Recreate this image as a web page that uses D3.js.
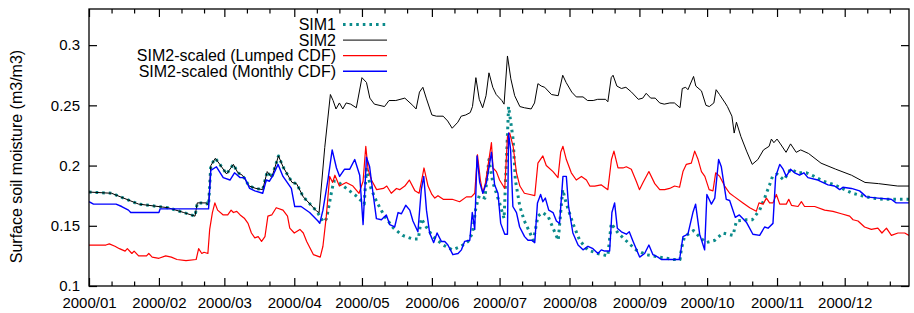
<!doctype html>
<html lang="en">
  <head>
    <meta charset="utf-8" />
    <title>Surface soil moisture 2000</title>
    <style>
     body {
       margin: 0;
       background: #fff;
     }
     svg {
       display: block;
       font-family: "Liberation Sans", Arial, sans-serif;
     }
     .tick line {
       stroke: #000;
       stroke-width: 1.2;
     }
     .tick text {
       font-size: 15px;
       fill: #000;
     }
     .legend text {
       font-size: 16px;
     }
    </style>
  </head>

  <body>
    <div id="chart"></div>

    <script src="https://d3js.org/d3.v7.min.js"></script>
    <script>
     // [day since 2000/01/01, value]
     var sim1 = [[0,.178],[10,.177],[22,.168],[35,.165],[42,.161],[47,.158],[48,.169],[52,.169],[53,.167],[54,.2],[56,.206],[58,.201],[61,.193],[64,.201],[66,.194],[68,.192],[71,.183],[74,.181],[77,.18],[79,.195],[81,.19],[84,.208],[86,.199],[90,.186],[92,.185],[95,.174],[101,.162],
       [104,.153],[105.3,.156],[107.4,.177],[108.5,.187],[110,.187],[112,.184],[115.5,.179],[119,.174],[122,.168],[123,.197],[125,.181],[127.5,.170],[131,.158],[135,.148],[139,.142],[143.5,.139],[146,.139],[147.3,.156],[149.5,.149],[152.5,.141],[157,.134],[161,.130],[165,.133],[168,.137],[170,.144],[171.5,.165],[173,.175],[175.5,.173],[177.3,.205],[179,.186],[182,.169],[184,.156],[186,.249],[188,.222],[189,.188],[191,.166],[193,.154],[195.5,.144],[197,.138],[199,.158],[201,.161],[203.5,.158],[205.5,.149],[208,.138],[210,.18],[211.5,.169],[214.5,.152],[217.5,.138],[221,.13],[225.5,.127],[230,.125],[231.5,.152],[234.5,.144],[239,.136],[242.5,.13],[247,.126],[253,.124],[259,.122],[262,.122],[262.6,.131],[264,.141],[268,.146],[270.5,.141],[273.5,.136],[277.5,.138],[281,.144],[285.5,.142],[287,.154],[291.5,.155],[294,.155],[297.3,.163],[299.5,.173],[301.7,.184],[303,.191],[305,.193],[308,.188],[311,.197],[314,.194],[318,.194],[321.5,.191],[325.5,.187],[330.5,.184],[335,.18],[338.5,.177],[342.5,.175],[347,.173],[352.5,.172],[363.5,.172]];

     var sim2 = [[0,.178],[10,.177],[22,.168],[35,.165],[42,.161],[47,.158],[48,.169],[52,.169],[53,.167],[54,.2],[56,.206],[58,.201],[61,.193],[64,.201],[66,.194],[68,.192],[71,.183],[74,.181],[77,.18],[79,.195],[81,.19],[84,.208],[86,.199],[90,.186],[92,.185],[95,.174],[101,.162],[102,.161],[104.5,.215],[107,.259],[108.2,.254],[109.5,.247],[111,.252],[112.5,.247],[114,.252],[116,.251],[118.5,.248],[121,.273],[123,.269],[124.5,.256],[126.5,.251],[131,.249],[133,.254],[136,.254],[140,.256],[143.5,.25],[145,.247],[146.5,.261],[148,.265],[149.5,.256],[152,.242],[154,.241],[157,.241],[159,.237],[161,.231],[163.5,.236],[165,.241],[167,.242],[169,.244],[170,.249],[171.5,.273],[173,.255],[174.5,.248],[176,.258],[177.3,.277],[179,.265],[180.5,.259],[183,.254],[184,.251],[185.5,.291],[187,.272],[188.7,.258],[191,.249],[193,.248],[196,.247],[197.5,.252],[199,.268],[200.5,.266],[202,.265],[205,.259],[208,.258],[210,.275],[211.5,.269],[214,.261],[216,.257],[219,.257],[221,.254],[223.5,.254],[225.5,.255],[229,.255],[230,.253],[231.5,.273],[232.3,.275],[234,.266],[236,.264],[238,.265],[240.5,.261],[243.5,.255],[245.5,.256],[247,.26],[249,.256],[251,.256],[253,.252],[255,.251],[257.5,.252],[259.5,.252],[262,.248],[263,.264],[264.5,.265],[265.5,.263],[268,.274],[269,.266],[271.5,.262],[273.5,.25],[275,.249],[277,.252],[278,.263],[279.5,.259],[282,.252],[283,.249],[285,.241],[286,.227],[287,.236],[289,.224],[291.5,.212],[294,.201],[296.5,.205],[299,.213],[301.5,.216],[302.5,.222],[303.6,.219],[305,.222],[306.5,.218],[309,.211],[311,.218],[313.5,.211],[315.5,.213],[319,.21],[324.5,.202],[331,.197],[338,.192],[344,.186],[350,.185],[358.5,.183],[363.5,.183]];

     var lumped = [[0,.134],[7.5,.134],[9,.135],[11.5,.133],[13.5,.131],[16,.129],[17,.131],[19,.127],[20,.129],[22,.125],[25.5,.125],[26.5,.127],[28,.124],[31,.123],[34,.125],[36.5,.124],[39,.122],[43,.121],[47.5,.122],[48.6,.131],[50,.127],[51,.128],[52.7,.127],[53.5,.147],[54.7,.161],[55.8,.169],[57,.163],[59.5,.159],[61.5,.159],[63,.163],[64,.161],[65.5,.162],[67,.159],[69,.156],[70.5,.152],[72,.144],[73.5,.14],[75,.141],[76.5,.137],[78,.141],[79.3,.158],[81,.159],[83,.165],[86,.163],[88,.158],[89,.148],[91,.144],[93.5,.147],[95,.144],[96.5,.137],[99.5,.126],[102.5,.124],[103.7,.133],[105.2,.158],[106.7,.191],[108,.186],[109,.192],[111,.183],[114,.186],[117,.183],[119.7,.177],[121.5,.187],[122.7,.216],[123.7,.197],[125.2,.188],[127.5,.18],[130.5,.181],[132,.183],[134,.177],[136.3,.181],[137.7,.18],[140,.183],[142,.188],[144.5,.179],[146.3,.177],[147.8,.191],[148.5,.198],[150.3,.183],[152,.176],[153.3,.173],[154.7,.175],[157,.172],[161,.172],[164.3,.170],[167.3,.174],[169.5,.174],[171,.177],[172.2,.209],[173.5,.188],[174.6,.177],[175.8,.186],[178.4,.219],[179.1,.198],[180.6,.195],[182,.188],[184.3,.181],[185.5,.224],[186.5,.227],[188,.216],[189.5,.194],[191,.183],[193,.177],[195.5,.176],[197.6,.175],[199,.202],[201.2,.208],[202.7,.2],[205.7,.195],[207.9,.19],[209.1,.211],[210.1,.216],[211.6,.205],[213.8,.194],[216,.188],[218.3,.191],[220.5,.188],[222,.183],[224.2,.183],[227,.184],[230,.18],[231.6,.205],[232.7,.212],[234.5,.198],[236.7,.198],[238.2,.199],[240.4,.197],[242.6,.187],[244,.18],[245.6,.186],[248.2,.195],[250.8,.185],[253,.18],[255.2,.18],[257.4,.181],[259.6,.183],[261.8,.182],[263.3,.195],[264.8,.201],[267,.202],[268.5,.212],[270,.205],[271.5,.195],[273,.191],[274.9,.18],[276.6,.179],[277.8,.194],[279.6,.191],[281.8,.183],[284,.177],[286.2,.174],[289.9,.169],[292.9,.165],[295.8,.162],[297,.169],[298.8,.168],[300.3,.173],[301.7,.169],[303.2,.169],[304.7,.176],[306.2,.168],[309.1,.168],[310.2,.172],[311.4,.167],[314.3,.166],[315.8,.170],[317.2,.166],[321.7,.166],[326.1,.163],[329.8,.162],[333.5,.16],[337.2,.158],[338.7,.155],[340.9,.154],[343.8,.149],[346.8,.147],[349.7,.148],[351.5,.144],[353.5,.148],[355.7,.142],[358.6,.144],[361.6,.144],[363.5,.142]];

     var monthly = [[0,.170],[2,.168],[12,.168],[14.5,.166],[17.5,.163],[18.5,.161],[31,.161],[31.5,.164],[53,.164],[54,.196],[56.5,.199],[59.5,.190],[62.5,.188],[64.5,.194],[67,.190],[69,.190],[71.2,.181],[73.5,.179],[77,.177],[78.6,.188],[80,.187],[81.6,.192],[83.8,.201],[86,.191],[89.7,.181],[91.2,.166],[94,.166],[97.8,.161],[101.5,.154],[102.3,.152],[103.7,.163],[105.9,.188],[107.8,.213],[109.7,.198],[111.1,.191],[113.3,.197],[115.6,.197],[117.8,.205],[120,.192],[121.5,.151],[123,.207],[124.4,.199],[125.9,.177],[127.4,.156],[129.6,.155],[131.8,.159],[133.3,.151],[135.5,.149],[137,.161],[138.5,.16],[140.4,.167],[142.2,.163],[143.6,.154],[145.8,.145],[147.3,.18],[148.4,.191],[149.6,.163],[151,.144],[152.8,.136],[154.3,.144],[156.2,.137],[157.7,.137],[159.1,.134],[161.3,.126],[163.6,.127],[165.1,.13],[166.5,.137],[168.8,.138],[169.9,.161],[171,.147],[172,.208],[173.2,.186],[174.6,.177],[176.2,.186],[178.4,.211],[179.8,.184],[181.3,.177],[182.5,.152],[184.3,.143],[185.5,.143],[186,.227],[186.9,.213],[187.9,.166],[189.5,.161],[190.9,.149],[193.1,.141],[194.6,.138],[196.2,.138],[197.6,.136],[198.8,.169],[200.2,.176],[201.2,.170],[202.3,.173],[203.8,.163],[205.7,.161],[207.2,.154],[208.6,.152],[210.1,.191],[211.6,.191],[212.6,.166],[214.5,.144],[216.8,.134],[219,.13],[221.2,.133],[223.4,.131],[225.6,.127],[227.1,.13],[228.6,.129],[230.8,.129],[231.8,.161],[233,.169],[234.2,.148],[236,.145],[238.2,.143],[239.5,.145],[241.2,.137],[244.1,.124],[246.3,.127],[248.2,.134],[250,.126],[252.2,.124],[253.7,.122],[261.8,.122],[263.3,.141],[265.5,.143],[267.7,.161],[268.9,.168],[270.7,.143],[272.9,.13],[273.9,.176],[275.9,.168],[277.4,.173],[279.1,.205],[280.3,.199],[282.5,.172],[284,.171],[286.5,.157],[288.3,.159],[291.4,.153],[294.3,.143],[297.3,.142],[299.5,.149],[301,.148],[303.2,.152],[304.4,.191],[306.2,.201],[307.7,.197],[309.1,.191],[311,.197],[312.8,.194],[315,.192],[316.9,.194],[318.7,.19],[323.1,.188],[327.6,.184],[330.5,.183],[332.8,.18],[334.2,.182],[338,.181],[341.6,.179],[344.6,.174],[349.7,.173],[355.6,.172],[357.8,.169],[363.5,.169]];

     var seriesNames = ["SIM1", "SIM2", "SIM2-scaled (Lumped CDF)", "SIM2-scaled (Monthly CDF)"];
     var yTicks = [0.1, 0.15, 0.2, 0.25, 0.3];
     var yLabel = "Surface soil moisture (m3/m3)";

     var width = 914, height = 313;
     var margin = {top: 9, right: 5, bottom: 27, left: 89};
     var day0 = Date.UTC(2000, 0, 1);
     function toDate(d) { return new Date(day0 + d * 864e5); }

     var x = d3.scaleUtc()
       .domain([toDate(0), toDate(363.5)])
       .range([margin.left, width - margin.right]);
     var y = d3.scaleLinear()
       .domain([0.1, 0.33])
       .range([height - margin.bottom, margin.top]);

     var svg = d3.select("#chart").append("svg")
       .attr("width", width)
       .attr("height", height);

     var months = d3.utcMonth.range(toDate(0), toDate(364));
     var minor = [];
     months.forEach(function(m) {
       minor.push(d3.utcDay.offset(m, 10), d3.utcDay.offset(m, 20));
     });

     // bottom + top x axes, ticks pointing in
     svg.append("g")
       .attr("transform", "translate(0," + y(0.1) + ")")
       .call(d3.axisBottom(x).tickValues(months).tickFormat(d3.utcFormat("%Y/%m"))
             .tickSizeInner(-8).tickSizeOuter(0).tickPadding(11))
       .call(function(g) { g.select(".domain").remove(); });
     svg.append("g")
       .attr("transform", "translate(0," + y(0.1) + ")")
       .call(d3.axisBottom(x).tickValues(minor).tickFormat("").tickSizeInner(-4.5).tickSizeOuter(0))
       .call(function(g) { g.select(".domain").remove(); });
     svg.append("g")
       .attr("transform", "translate(0," + margin.top + ")")
       .call(d3.axisTop(x).tickValues(months).tickFormat("").tickSizeInner(-8).tickSizeOuter(0))
       .call(function(g) { g.select(".domain").remove(); });
     svg.append("g")
       .attr("transform", "translate(0," + margin.top + ")")
       .call(d3.axisTop(x).tickValues(minor).tickFormat("").tickSizeInner(-4.5).tickSizeOuter(0))
       .call(function(g) { g.select(".domain").remove(); });

     // left + right y axes
     svg.append("g")
       .attr("transform", "translate(" + margin.left + ",0)")
       .call(d3.axisLeft(y).tickValues(yTicks).tickFormat(d3.format("~g"))
             .tickSizeInner(-8).tickSizeOuter(0).tickPadding(9))
       .call(function(g) { g.select(".domain").remove(); });
     svg.append("g")
       .attr("transform", "translate(" + (width - margin.right) + ",0)")
       .call(d3.axisRight(y).tickValues(yTicks).tickFormat("").tickSizeInner(-8).tickSizeOuter(0))
       .call(function(g) { g.select(".domain").remove(); });

     svg.selectAll(".tick text").attr("font-family", null).attr("font-size", null);

     svg.append("text")
       .attr("transform", "translate(22," + y(0.2075) + ") rotate(-90)")
       .attr("text-anchor", "middle")
       .attr("font-size", 16)
       .text(yLabel);

     var line = d3.line()
       .x(function(d) { return x(toDate(d[0])); })
       .y(function(d) { return y(d[1]); });

     var styles = [
       {data: sim1, color: "#0b8b8b", w: 3, dash: "2.6,4"},
       {data: sim2, color: "#000", w: 1, dash: null},
       {data: lumped, color: "#ff0000", w: 1.2, dash: null},
       {data: monthly, color: "#0000ff", w: 1.4, dash: null}
     ];

     svg.append("clipPath").attr("id", "clip").append("rect")
       .attr("x", margin.left).attr("y", margin.top)
       .attr("width", width - margin.right - margin.left)
       .attr("height", y(0.1) - margin.top);

     var plot = svg.append("g").attr("clip-path", "url(#clip)");
     styles.forEach(function(s) {
       plot.append("path")
         .datum(s.data)
         .attr("fill", "none")
         .attr("stroke", s.color)
         .attr("stroke-width", s.w)
         .attr("stroke-dasharray", s.dash)
         .attr("stroke-linejoin", "round")
         .attr("d", line);
     });

     // legend
     var legend = svg.append("g").attr("class", "legend");
     styles.forEach(function(s, i) {
       var ly = 24.5 + i * 15.6;
       legend.append("text")
         .attr("x", 336)
         .attr("y", ly)
         .attr("dy", "0.35em")
         .attr("text-anchor", "end")
         .text(seriesNames[i]);
       legend.append("line")
         .attr("x1", 343).attr("x2", 387)
         .attr("y1", ly).attr("y2", ly)
         .attr("stroke", s.color)
         .attr("stroke-width", s.w)
         .attr("stroke-dasharray", s.dash);
     });

     svg.append("rect")
       .attr("x", margin.left)
       .attr("y", margin.top)
       .attr("width", width - margin.right - margin.left)
       .attr("height", y(0.1) - margin.top)
       .attr("fill", "none")
       .attr("stroke", "#000")
       .attr("stroke-width", 1.3);
    </script>
  </body>
